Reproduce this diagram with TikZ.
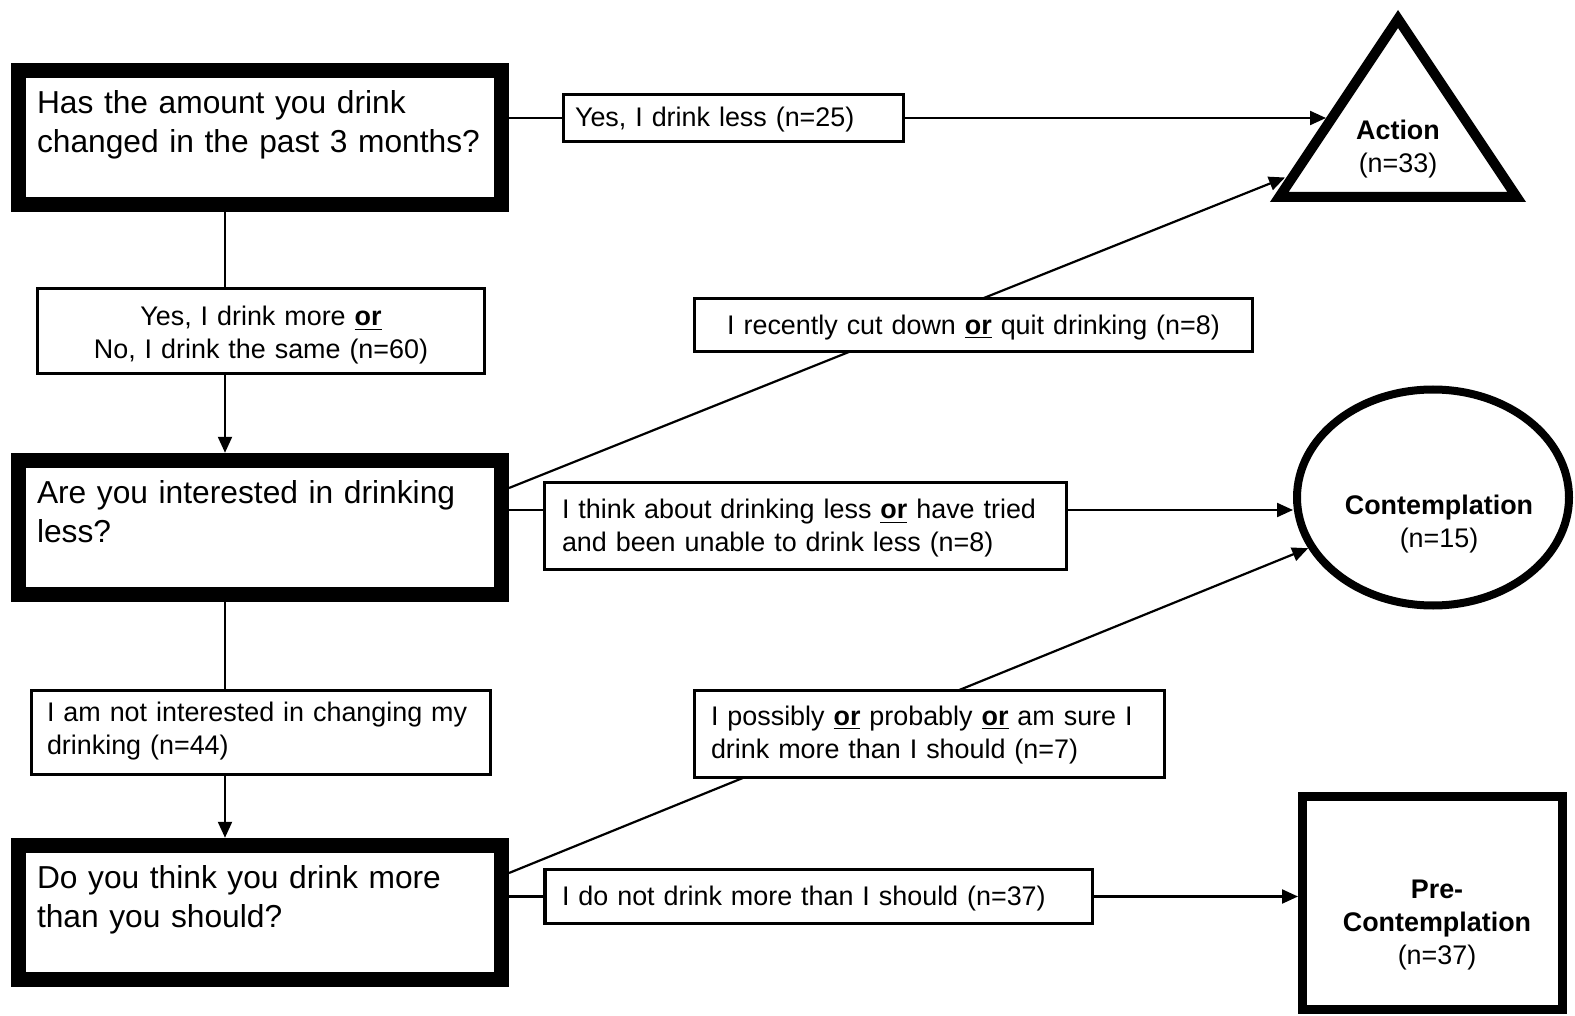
\documentclass[tikz,border=0pt]{standalone}
\usepackage{fontspec}
\setmainfont{Liberation Sans}
\usetikzlibrary{arrows.meta,shapes.geometric}
\newcommand{\qfont}{\fontsize{15.87}{19.5}\selectfont}
\newcommand{\lfont}{\fontsize{13.45}{16.5}\selectfont}
\newcommand{\ormark}{\underline{\textbf{or}}}
\pgfdeclarelayer{bg}
\pgfsetlayers{bg,main}
\begin{document}
\begin{tikzpicture}[x=0.5pt,y=-0.5pt,
  qbox/.style={draw, line width=7.5pt, fill=white, font=\qfont, align=left,
    text width=223pt, inner xsep=9.25pt, inner ysep=5pt,
    text height=16.5pt, text depth=40.75pt},
  lbl/.style={draw, line width=1.7pt, fill=white, font=\lfont, inner ysep=0pt},
  conn/.style={line width=1.1pt},
  arr/.style={line width=1.1pt, -{Triangle[length=8pt,width=7pt]}},
  restext/.style={font=\lfont, align=center, inner sep=0pt}
]
\useasboundingbox (0,0) rectangle (1575,1016);

% question boxes
\node[qbox] (Q1) at (260,137.75) {Has the amount you drink\\\mbox{changed in the past 3 months?}};
\node[qbox] (Q2) at (260,527.5) {Are you interested in drinking\\less?};
\node[qbox] (Q3) at (260,912.5) {Do you think you drink more\\than you should?};

% answer labels
\node[lbl, align=center, text width=223.5pt, inner xsep=0pt, text height=18.75pt, text depth=23.75pt] (L1) at (261,331)
  {Yes, I drink more \ormark\\No, I drink the same (n=60)};
\node[lbl, align=left, text width=214pt, inner xsep=7.75pt, text height=15.65pt, text depth=26.35pt] (L2) at (261,732.5)
  {I am not interested in changing my\\drinking (n=44)};
\node[lbl, align=left, text width=158.5pt, inner xsep=5.75pt, text height=15.8pt, text depth=7.7pt] (L3) at (733.5,118)
  {Yes, I drink less (n=25)};
\node[lbl, align=center, text width=279pt, inner xsep=0pt, text height=17.8pt, text depth=8.7pt] (L4) at (973.5,325)
  {I recently cut down \ormark\ quit drinking (n=8)};
\node[lbl, align=left, text width=243.5pt, inner xsep=8.75pt, text height=18.2pt, text depth=25.3pt] (L5) at (805.5,526)
  {I think about drinking less \ormark\ have tried\\and been unable to drink less (n=8)};
\node[lbl, align=left, text width=218.5pt, inner xsep=8.25pt, text height=17.65pt, text depth=25.85pt] (L6) at (929.5,734)
  {I possibly \ormark\ probably \ormark\ am sure I\\drink more than I should (n=7)};
\node[lbl, align=left, text width=256.75pt, inner xsep=8.5pt, text height=18.05pt, text depth=8.95pt] (L7) at (818.75,896.5)
  {I do not drink more than I should (n=37)};

% outcome shapes
\draw[line width=5pt, line join=miter] (1398,19) -- (1279.3,197) -- (1516.7,197) -- cycle;
\node[restext] (action) at (1398,149) {\textbf{Action}\\(n=33)};
\node[draw, ellipse, line width=4pt, minimum width=136pt, minimum height=108pt, inner sep=0pt] (cont) at (1433,497.5) {};
\node[restext] (conttext) at (1439,524) {\textbf{Contemplation}\\(n=15)};
\node[draw, rectangle, line width=4.5pt, minimum width=130pt, minimum height=106.5pt, inner sep=0pt] (pre) at (1432.5,903) {};
\node[restext] (pretext) at (1437,925) {\textbf{Pre-}\\\textbf{Contemplation}\\(n=37)};

% helper coordinates
\coordinate (vx) at (225,0);
\coordinate (h2) at (0,510);
\coordinate (tipA) at (1326,118);
\coordinate (tipB) at (1285,177.5);

\begin{pgfonlayer}{bg}
\draw[conn] (Q1.east |- L3.west) -- (L3.west);
\draw[arr] (L3.east) -- (tipA);
\draw[conn] (Q1.south -| vx) -- (L1.north -| vx);
\draw[arr] (L1.south -| vx) -- (Q2.north -| vx);
\draw[arr] ([yshift=19.75pt]Q2.east) -- (tipB);
\draw[conn] (Q2.east |- h2) -- (L5.west |- h2);
\draw[arr] (L5.east |- h2) -- (cont.west |- h2);
\draw[conn] (Q2.south -| vx) -- (L2.north -| vx);
\draw[arr] (L2.south -| vx) -- (Q3.north -| vx);
\draw[arr] ([yshift=19.75pt]Q3.east) -- (cont);
\draw[conn] (Q3.east |- L7.west) -- (L7.west);
\draw[arr] (L7.east) -- (L7.east -| pre.west);
\end{pgfonlayer}
\end{tikzpicture}
\end{document}
